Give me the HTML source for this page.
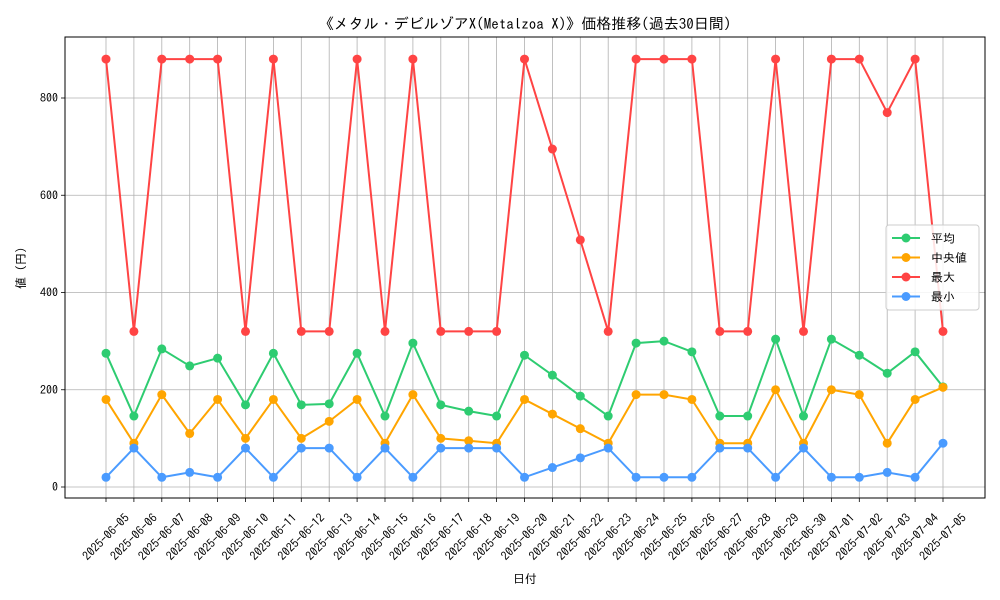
<!DOCTYPE html>
<html><head><meta charset="utf-8"><style>
body{margin:0;background:#fff}
svg{display:block;font-family:"IPAGothic","Liberation Sans","Noto Sans CJK JP",sans-serif}
</style></head><body>
<svg id="c" width="1000" height="600"></svg>
<script>
const dates=["2025-06-05","2025-06-06","2025-06-07","2025-06-08","2025-06-09","2025-06-10","2025-06-11","2025-06-12","2025-06-13","2025-06-14","2025-06-15","2025-06-16","2025-06-17","2025-06-18","2025-06-19","2025-06-20","2025-06-21","2025-06-22","2025-06-23","2025-06-24","2025-06-25","2025-06-26","2025-06-27","2025-06-28","2025-06-29","2025-06-30","2025-07-01","2025-07-02","2025-07-03","2025-07-04","2025-07-05"];
const avgVals=[275,146,284,249,265,169,275,169,171,275,146,296,169,156,146,271,230,187,146,296,300,278,146,146,304,146,304,271,234,278,206];
const medVals=[180,90,190,110,180,100,180,100,135,180,90,190,100,95,90,180,150,120,90,190,190,180,90,90,200,90,200,190,90,180,205];
const maxVals=[880,320,880,880,880,320,880,320,320,880,320,880,320,320,320,880,695,508,320,880,880,880,320,320,880,320,880,880,770,880,320];
const minVals=[20,80,20,30,20,80,20,80,80,20,80,20,80,80,80,20,40,60,80,20,20,20,80,80,20,80,20,20,30,20,90];
const yTicks=[0,200,400,600,800];
const NS="http://www.w3.org/2000/svg";
const svg=document.getElementById('c');
const L=65,R=985,T=37,B=498;
const x=i=>106+i*(943-106)/(dates.length-1);
const y=v=>487-v*(389/800);
function el(t,a,p){const e=document.createElementNS(NS,t);for(const k in a)e.setAttribute(k,a[k]);(p||svg).appendChild(e);return e;}
dates.forEach((d,i)=>{
 const g=el('line',{x1:x(i),x2:x(i),y1:T,y2:B,stroke:'#b0b0b0','stroke-width':0.8});
 
 
 el('line',{x1:x(i),x2:x(i),y1:B,y2:B+4,stroke:'#000','stroke-width':0.8});
 const t=el('text',{x:x(i),y:537,'font-size':12,'text-anchor':'middle','dominant-baseline':'central',transform:`rotate(-45 ${x(i)} 537)`});
 t.textContent=d;
 
 
});
yTicks.forEach(v=>{
 const g=el('line',{x1:L,x2:R,y1:y(v),y2:y(v),stroke:'#b0b0b0','stroke-width':0.8});
 
 
 el('line',{x1:L-4,x2:L,y1:y(v),y2:y(v),stroke:'#000','stroke-width':0.8});
 const t=el('text',{x:L-7,y:y(v)+4,'font-size':12,'text-anchor':'end'});
 t.textContent=v;
 
 
});
const fr=el('rect',{x:L,y:T,width:R-L,height:B-T,fill:'none',stroke:'#000','stroke-width':1});


const series=[["avg",avgVals,"#2ecc71"],["median",medVals,"#ffa500"],["max",maxVals,"#ff4444"],["min",minVals,"#4a9bff"]];
series.forEach(([n,vals,c])=>{
 const p=el('polyline',{points:vals.map((v,i)=>x(i)+','+y(v)).join(' '),fill:'none',stroke:c,'stroke-width':2});
 
 
 vals.forEach((v,i)=>{
  const m=el('circle',{cx:x(i),cy:y(v),r:4.5,fill:c});
  
  
 });
});
const title=el('text',{x:525,y:29,'font-size':15,'text-anchor':'middle'});
title.textContent="《メタル・デビルゾアX(Metalzoa X)》価格推移(過去30日間)";


const xl=el('text',{x:525,y:583,'font-size':12,'text-anchor':'middle'});
xl.textContent="日付";


const yl=el('text',{x:25,y:268,'font-size':12,'text-anchor':'middle',transform:'rotate(-90 25 268)'});
yl.textContent="値 (円)";


const lg=el('g',{});


el('rect',{x:886,y:225,width:93,height:85,rx:3,fill:'#fff','fill-opacity':0.85,stroke:'#ccc'},lg);
const names=["平均","中央値","最大","最小"];
series.forEach(([n,v,c],k)=>{
 const yy=238+k*19.5;
 el('line',{x1:892,x2:920,y1:yy,y2:yy,stroke:c,'stroke-width':2},lg);
 el('circle',{cx:906,cy:yy,r:4.5,fill:c},lg);
 const t=el('text',{x:931,y:yy+4.5,'font-size':12},lg);
 t.textContent=names[k];
 
 
});
</script>
</body></html>
